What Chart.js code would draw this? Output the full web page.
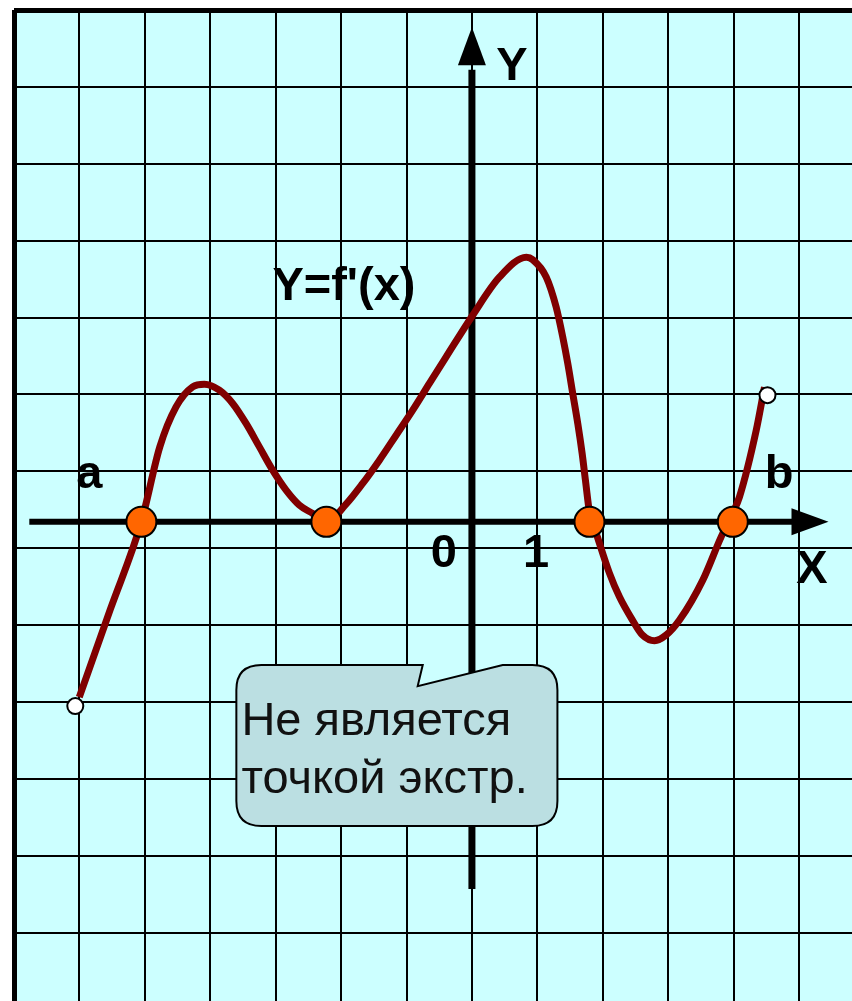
<!DOCTYPE html>
<html>
<head>
<meta charset="utf-8">
<style>
  html, body { margin: 0; padding: 0; background: #ffffff; overflow: hidden; }
  #wrap { width: 852px; height: 1001px; overflow: hidden; }
  canvas { display: block; }
</style>
<script src="https://cdn.jsdelivr.net/npm/chart.js@4"></script>
</head>
<body>
<div id="wrap"><canvas id="c" width="852" height="1001"></canvas></div>
<script>
// ---- data (grid units) ----
const curveX = [-6.002, -5.528, -5.053, -4.771, -4.523, -4.269, -4.090, -3.861, -3.657, -3.453,
                -3.249, -3.046, -2.841, -2.638, -2.434, -2.225, -1.924, -1.670, -1.414, -1.159,
                -0.905, -0.650, -0.394, 0.012, 0.420, 0.833, 0.930, 1.135, 1.287, 1.388,
                1.465, 1.541, 1.618, 1.685, 1.735, 1.797, 1.919, 2.102, 2.255, 2.454,
                2.607, 2.791, 2.969, 3.173, 3.529, 3.810, 3.988, 4.090, 4.346, 4.472];
const curveY = [-2.280, -1.139, 0, 0.975, 1.495, 1.756, 1.791, 1.713, 1.540, 1.280,
                0.975, 0.672, 0.412, 0.217, 0.109, 0, 0.230, 0.499, 0.802, 1.127,
                1.453, 1.800, 2.146, 2.688, 3.182, 3.442, 3.410, 3.186, 2.796, 2.406,
                2.060, 1.670, 1.280, 0.889, 0.542, 0.126, -0.199, -0.667, -0.975, -1.278,
                -1.473, -1.547, -1.473, -1.278, -0.758, -0.195, 0.113, 0.325, 1.192, 1.752];
const rootX = [-5.053, -2.225, 1.797, 3.988];
const rootY = [0, 0, 0, 0];
const endX = [-6.063, 4.518];
const endY = [-2.397, 1.648];
const xTickValues = [-7, -6, -5, -4, -3, -2, -1, 0, 1, 2, 3, 4, 5];
const originLabels = ['0', '1'];
const axisNames = ['X', 'Y'];
const endNames = ['a', 'b'];
const curveName = "Y=f'(x)";
const calloutLines = ['Не является', 'точкой экстр.'];

const FONT = '"Liberation Sans", Arial, Helvetica, sans-serif';

function pts(xs, ys) { return xs.map((x, i) => ({ x: x, y: ys[i] })); }

const overlay = {
  id: 'overlay',
  beforeDraw(chart) {
    const ctx = chart.ctx, a = chart.chartArea;
    ctx.save();
    ctx.fillStyle = '#ffffff';
    ctx.fillRect(0, 0, chart.width, chart.height);
    ctx.fillStyle = '#CCFFFF';
    ctx.fillRect(a.left, a.top, a.right - a.left, a.bottom - a.top);
    ctx.restore();
  },
  beforeDatasetsDraw(chart) {
    const ctx = chart.ctx, sx = chart.scales.x, sy = chart.scales.y;
    const px = v => sx.getPixelForValue(v), py = v => sy.getPixelForValue(v);
    ctx.save();
    ctx.fillStyle = '#000';
    ctx.strokeStyle = '#000';
    // x axis
    ctx.lineWidth = 6;
    ctx.beginPath();
    ctx.moveTo(px(-6.766), py(0));
    ctx.lineTo(px(4.95), py(0));
    ctx.stroke();
    ctx.beginPath();
    ctx.moveTo(px(5.451), py(0));
    ctx.lineTo(px(4.885), py(0) - 13.5);
    ctx.lineTo(px(4.885), py(0) + 13.5);
    ctx.closePath();
    ctx.fill();
    // y axis
    ctx.lineWidth = 7;
    ctx.beginPath();
    ctx.moveTo(px(0), py(-4.776));
    ctx.lineTo(px(0), py(5.88));
    ctx.stroke();
    ctx.beginPath();
    ctx.moveTo(px(0), py(6.433));
    ctx.lineTo(px(0) - 14, py(5.939));
    ctx.lineTo(px(0) + 14, py(5.939));
    ctx.closePath();
    ctx.fill();
    ctx.restore();
  },
  afterDatasetsDraw(chart) {
    const ctx = chart.ctx, sx = chart.scales.x, sy = chart.scales.y;
    const px = v => sx.getPixelForValue(v), py = v => sy.getPixelForValue(v);
    ctx.save();
    // callout
    const L = px(-3.601), R = px(1.307), T = py(-1.863), B = py(-3.957), r = 25;
    ctx.beginPath();
    ctx.moveTo(L + r, T);
    ctx.lineTo(px(-0.752), T);
    ctx.lineTo(px(-0.829), py(-2.137));
    ctx.lineTo(px(0.471), T);
    ctx.lineTo(R - r, T);
    ctx.quadraticCurveTo(R, T, R, T + r);
    ctx.lineTo(R, B - r);
    ctx.quadraticCurveTo(R, B, R - r, B);
    ctx.lineTo(L + r, B);
    ctx.quadraticCurveTo(L, B, L, B - r);
    ctx.lineTo(L, T + r);
    ctx.quadraticCurveTo(L, T, L + r, T);
    ctx.closePath();
    ctx.fillStyle = '#BBDFE2';
    ctx.fill();
    ctx.lineWidth = 2;
    ctx.strokeStyle = '#000';
    ctx.stroke();
    ctx.fillStyle = '#111';
    ctx.font = '47px ' + FONT;
    ctx.textAlign = 'left';
    ctx.textBaseline = 'alphabetic';
    ctx.fillText(calloutLines[0], px(-3.524), py(-2.774));
    ctx.fillText(calloutLines[1], px(-3.524), py(-3.532));
    // labels
    ctx.fillStyle = '#000';
    ctx.font = 'bold 47px ' + FONT;
    ctx.textAlign = 'center';
    ctx.fillText(axisNames[1], px(0.612), py(5.744));
    ctx.fillText(axisNames[0], px(5.199), py(-0.797));
    ctx.fillText(endNames[0], px(-5.849), py(0.438));
    ctx.fillText(endNames[1], px(4.694), py(0.438));
    ctx.fillText(originLabels[0], px(-0.428), py(-0.589));
    ctx.fillText(originLabels[1], px(0.979), py(-0.589));
    ctx.textAlign = 'left';
    ctx.fillText(curveName, px(-3.05), py(2.883));
    ctx.restore();
  }
};

const yTop = 6.658, yBottom = -6.233;

new Chart(document.getElementById('c'), {
  type: 'line',
  data: {
    datasets: [
      {
        label: 'curve',
        data: pts(curveX, curveY),
        borderColor: '#800000',
        borderWidth: 7,
        pointRadius: 0,
        fill: false,
        cubicInterpolationMode: 'monotone',
        borderCapStyle: 'butt',
        borderJoinStyle: 'round',
        order: 3
      },
      {
        label: 'roots',
        type: 'scatter',
        data: pts(rootX, rootY),
        pointRadius: 15,
        pointBackgroundColor: '#FF6600',
        pointBorderColor: '#000',
        pointBorderWidth: 2,
        showLine: false,
        order: 1
      },
      {
        label: 'ends',
        type: 'scatter',
        data: pts(endX, endY),
        pointRadius: 8,
        pointBackgroundColor: '#ffffff',
        pointBorderColor: '#000',
        pointBorderWidth: 2,
        showLine: false,
        order: 2
      }
    ]
  },
  options: {
    responsive: false,
    animation: false,
    devicePixelRatio: 1,
    layout: { autoPadding: false, padding: { left: 14, top: 10, right: 0, bottom: 0 } },
    plugins: { legend: { display: false }, tooltip: { enabled: false } },
    events: [],
    scales: {
      x: {
        type: 'linear',
        min: -7,
        max: 5.81,
        afterBuildTicks(scale) { scale.ticks = xTickValues.map(v => ({ value: v })); },
        ticks: { display: false },
        border: { display: false },
        grid: {
          drawTicks: false,
          color: '#000',
          lineWidth: ctx => (ctx.tick && ctx.tick.value === -7 ? 5 : 2)
        }
      },
      y: {
        type: 'linear',
        min: yBottom,
        max: yTop,
        afterBuildTicks(scale) {
          const t = [];
          for (let v = yTop; v > yBottom; v -= 1) t.push({ value: v });
          scale.ticks = t;
        },
        ticks: { display: false },
        border: { display: false },
        grid: {
          drawTicks: false,
          color: '#000',
          lineWidth: ctx => (ctx.tick && Math.abs(ctx.tick.value - yTop) < 1e-6 ? 5 : 2)
        }
      }
    }
  },
  plugins: [overlay]
});
</script>
</body>
</html>
